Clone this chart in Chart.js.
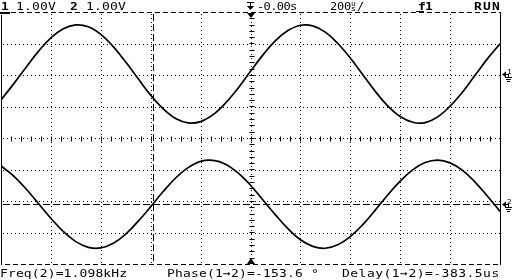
<!DOCTYPE html>
<html>
<head>
<meta charset="utf-8">
<script src="https://cdn.jsdelivr.net/npm/chart.js@4.4.0/dist/chart.umd.min.js"></script>
<style>
html, body { margin: 0; padding: 0; background: #fff; }
#wrap { width: 512px; height: 280px; }
</style>
</head>
<body>
<div id="wrap"><canvas id="scope" width="512" height="280"></canvas></div>
<script>
// sample times in us from trigger (200 us/div, 10 divisions)
const timeUs = [-1000, -950, -900, -850, -800, -750, -700, -650, -600, -550,
                -500, -450, -400, -350, -300, -250, -200, -150, -100, -50,
                0, 50, 100, 150, 200, 250, 300, 350, 400, 450,
                500, 550, 600, 650, 700, 750, 800, 850, 900, 950, 1000];
// traces, in divisions (1.00 V/div)
const ch1Div = [1.21, 1.71, 2.24, 2.75, 3.18, 3.47, 3.59, 3.53, 3.29, 2.90,
                2.41, 1.88, 1.36, 0.93, 0.62, 0.48, 0.52, 0.74, 1.11, 1.58,
                2.12, 2.64, 3.09, 3.41, 3.58, 3.56, 3.36, 3.00, 2.54, 2.01,
                1.48, 1.02, 0.68, 0.50, 0.49, 0.67, 1.01, 1.46, 1.99, 2.52, 2.99];
const ch2Div = [-0.89, -1.20, -1.61, -2.08, -2.55, -2.97, -3.29, -3.47, -3.49, -3.34,
                -3.05, -2.64, -2.18, -1.70, -1.27, -0.94, -0.74, -0.71, -0.83, -1.11,
                -1.50, -1.97, -2.44, -2.88, -3.23, -3.44, -3.50, -3.39, -3.13, -2.75,
                -2.29, -1.81, -1.37, -1.01, -0.78, -0.70, -0.79, -1.03, -1.40, -1.85, -2.33];
const xGridUs = [-800, -600, -400, -200, 200, 400, 600, 800];
const yGridDiv = [-3, -2, -1, 1, 2, 3];
const ch1Ref = 2.03;
const ch2Ref = -2.1;
const cursorUs = -390;

function mono(ctx, str, x, y, adv, size, bold) {
    ctx.save();
    ctx.font = (bold ? 'bold ' : '') + size + 'px "DejaVu Sans Mono"';
    ctx.translate(x, y);
    ctx.scale(1, 0.85);
    for (let i = 0; i < str.length; i++) {
        ctx.fillText(str[i], i * adv, 0);
    }
    ctx.restore();
}

function hLine(ctx, x0, x1, y) {
    ctx.beginPath();
    ctx.moveTo(x0, y);
    ctx.lineTo(x1, y);
    ctx.stroke();
}
function vLine(ctx, x, y0, y1) {
    ctx.beginPath();
    ctx.moveTo(x, y0);
    ctx.lineTo(x, y1);
    ctx.stroke();
}

const scopeGrid = {
    id: 'scopeGrid',
    beforeDatasetsDraw(chart) {
        const ctx = chart.ctx;
        const a = chart.chartArea;
        const x = chart.scales.x, y = chart.scales.y;
        const px = v => Math.round(x.getPixelForValue(v)) + 0.5;
        const py = v => Math.round(y.getPixelForValue(v)) + 0.5;
        ctx.save();
        ctx.strokeStyle = '#000';
        ctx.fillStyle = '#000';
        ctx.lineWidth = 1;

        // dotted grid
        ctx.setLineDash([1, 3]);
        xGridUs.forEach(v => vLine(ctx, px(v), a.top + 2, a.bottom));
        yGridDiv.forEach(v => hLine(ctx, a.left + 2, a.right, py(v)));
        // center axes
        vLine(ctx, px(0), a.top + 2, a.bottom);
        hLine(ctx, a.left + 2, a.right, py(0));
        ctx.setLineDash([]);
        for (let t = -960; t <= 960; t += 40) {
            vLine(ctx, px(t), py(0) - 2, py(0) + 3);
        }
        for (let d = -3.8; d <= 3.81; d += 0.2) {
            hLine(ctx, px(0) - 2, px(0) + 3, py(d));
        }

        // cursors
        ctx.setLineDash([7, 3]);
        vLine(ctx, px(cursorUs), a.top + 2, a.bottom);
        hLine(ctx, a.left + 2, a.right, py(ch2Ref));

        // border: dashed top and bottom, solid sides
        ctx.setLineDash([5, 3]);
        hLine(ctx, a.left + 10, a.right, Math.round(a.top) + 0.5);
        hLine(ctx, a.left + 4, a.right, Math.round(a.bottom) + 0.5);
        ctx.setLineDash([]);
        vLine(ctx, Math.round(a.left) + 0.5, a.top + 3, a.bottom + 1);
        vLine(ctx, Math.round(a.right) + 0.5, a.top, a.bottom + 1);
        ctx.fillRect(0, Math.round(a.top), 10, 2);

        // trigger position markers
        const cx = px(0) - 0.5;
        ctx.beginPath();
        ctx.moveTo(cx - 4, a.top + 1); ctx.lineTo(cx + 4, a.top + 1); ctx.lineTo(cx, a.top + 6);
        ctx.fill();
        ctx.beginPath();
        ctx.moveTo(cx - 4, a.bottom); ctx.lineTo(cx + 4, a.bottom); ctx.lineTo(cx, a.bottom - 6);
        ctx.fill();
        ctx.restore();
    },
    afterDraw(chart) {
        const ctx = chart.ctx;
        const a = chart.chartArea;
        const y = chart.scales.y;
        ctx.save();
        ctx.fillStyle = '#000';
        ctx.strokeStyle = '#000';
        ctx.lineWidth = 1;
        ctx.textBaseline = 'alphabetic';

        // top status line
        mono(ctx, '1', 1, 10, 8, 13, true);
        mono(ctx, '1.00V', 16, 10, 8, 13, false);
        mono(ctx, '2', 70, 10, 8, 13, true);
        mono(ctx, '1.00V', 86, 10, 8, 13, false);
        // trigger delay glyph
        hLine(ctx, 247, 254, 2.5);
        vLine(ctx, 250.5, 2, 8);
        ctx.beginPath();
        ctx.moveTo(247, 6); ctx.lineTo(254, 6); ctx.lineTo(250.5, 10);
        ctx.fill();
        mono(ctx, '-0.00s', 257, 10, 6.6, 12, false);
        mono(ctx, '200', 330, 10, 7, 12, false);
        mono(ctx, 'u', 351, 6, 5, 8, false);
        mono(ctx, 's', 351, 11, 5, 8, false);
        mono(ctx, '/', 357, 10, 7, 12, false);
        // trigger source
        mono(ctx, 'f', 418, 10, 7, 13, true);
        hLine(ctx, 416, 424, 11.5);
        mono(ctx, '1', 425, 10, 7, 13, true);
        mono(ctx, 'RUN', 474, 10, 9, 13, true);

        // channel ground markers at the right edge
        [[ch1Ref, '1'], [ch2Ref, '2']].forEach(([ref, lab]) => {
            const yy = Math.round(y.getPixelForValue(ref)) + 0.5;
            ctx.beginPath();
            ctx.moveTo(502, yy); ctx.lineTo(506, yy - 3); ctx.lineTo(506, yy + 3);
            ctx.fill();
            hLine(ctx, 506, 509, yy);
            mono(ctx, lab, 507, yy - 1, 5, 8, false);
            vLine(ctx, 508.5, yy, yy + 3);
            hLine(ctx, 505, 512, yy + 3);
            hLine(ctx, 506, 511, yy + 5);
            hLine(ctx, 507, 510, yy + 7);
        });

        // measurement line
        mono(ctx, 'Freq(2)=1.098kHz', 0, 277, 7.95, 13, false);
        mono(ctx, 'Phase(1\u21922)=-153.6 \u00b0', 167, 277, 8, 13, false);
        mono(ctx, 'Delay(1\u21922)=-383.5us', 342, 277, 8.3, 13, false);
        ctx.restore();
    }
};

const ctx = document.getElementById('scope').getContext('2d');
const scopeChart = new Chart(ctx, {
    type: 'line',
    data: {
        datasets: [
            {
                label: 'CH1',
                data: timeUs.map((t, i) => ({ x: t, y: ch1Div[i] })),
                borderColor: '#000',
                borderWidth: 1.7,
                pointRadius: 0,
                tension: 0.4,
                fill: false
            },
            {
                label: 'CH2',
                data: timeUs.map((t, i) => ({ x: t, y: ch2Div[i] })),
                borderColor: '#000',
                borderWidth: 1.7,
                pointRadius: 0,
                tension: 0.4,
                fill: false
            }
        ]
    },
    options: {
        responsive: false,
        animation: false,
        events: [],
        layout: { padding: { left: 1, right: 12, top: 12, bottom: 16 } },
        plugins: {
            legend: { display: false },
            tooltip: { enabled: false }
        },
        scales: {
            x: { type: 'linear', min: -1000, max: 1000, display: false },
            y: { type: 'linear', min: -4, max: 4, display: false }
        }
    },
    plugins: [scopeGrid]
});
</script>
</body>
</html>
